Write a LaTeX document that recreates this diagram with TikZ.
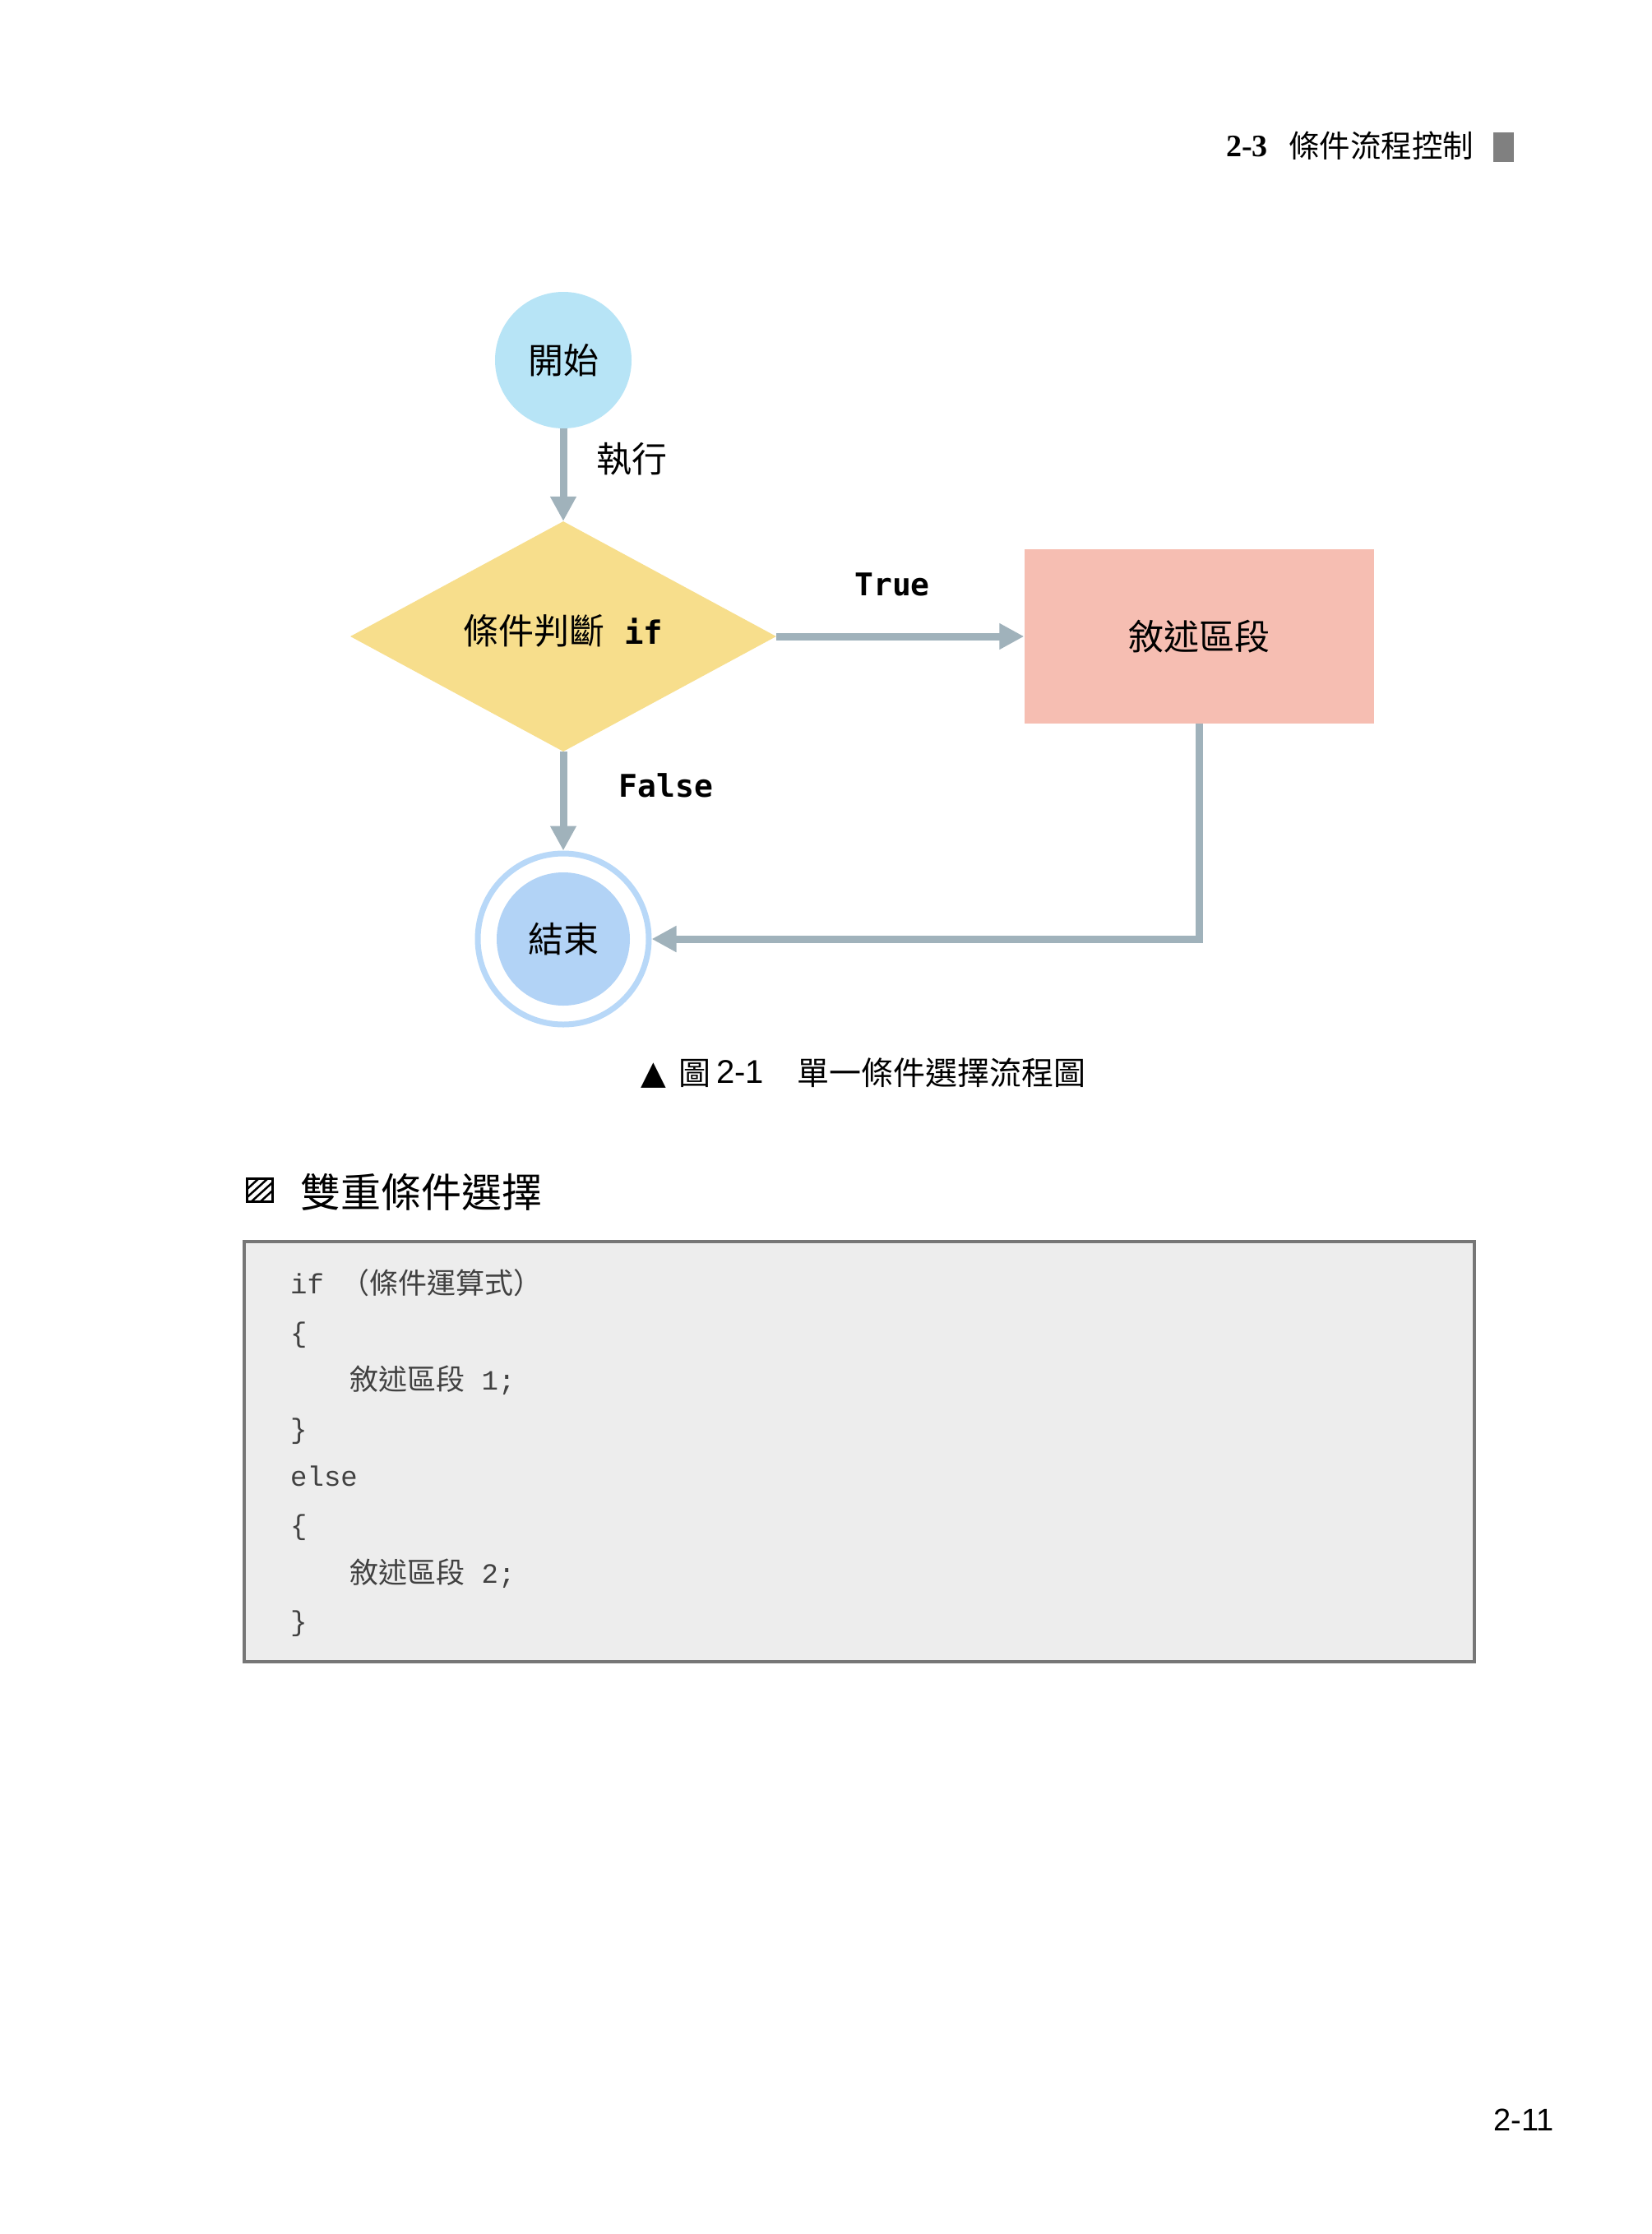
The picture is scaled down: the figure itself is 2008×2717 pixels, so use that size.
\documentclass[tikz,border=0pt]{standalone}
\usepackage{fontspec}
\usetikzlibrary{shapes.geometric,arrows.meta}
\newfontfamily\cjk{Noto Sans CJK TC}
\newfontfamily\dmono{DejaVu Sans Mono}
\newfontfamily\lmono{Liberation Mono}
\newfontfamily\lserif{Liberation Serif}
\newfontfamily\lsans{Liberation Sans}
\newfontfamily\dsans{DejaVu Sans}
\newcommand\fsz[1]{\fontsize{#1}{#1}\selectfont}
\definecolor{arrowc}{RGB}{160,178,187}
\definecolor{startc}{RGB}{183,228,246}
\definecolor{decc}{RGB}{247,222,140}
\definecolor{blkc}{RGB}{246,190,178}
\definecolor{endc}{RGB}{178,211,246}
\definecolor{ringc}{RGB}{184,216,248}
\definecolor{headgray}{RGB}{128,128,128}
\definecolor{codebg}{RGB}{237,237,237}
\definecolor{codeframe}{RGB}{118,118,118}
\definecolor{codec}{RGB}{65,65,65}
\tikzset{
  flow/.style={draw=arrowc, line width=9pt, -{Triangle[length=30pt,width=30pt]}},
  cjklabel/.style={font={\cjk\fsz{43}}, inner sep=0pt},
  monolabel/.style={font={\dmono\bfseries\fsz{38}}, inner sep=0pt},
  codeline/.style={anchor=base west, inner sep=0pt, font={\lmono\fsz{34}}, text=codec},
  pagetext/.style={anchor=base west, inner sep=0pt},
}
\begin{document}
\begin{tikzpicture}[x=1pt,y=-1pt]
\fill[white] (0,0) rectangle (2008,2717);
\useasboundingbox (0,0) rectangle (2008,2717);

% header
\node[pagetext, font={\lserif\bfseries\fsz{38}}] (hnum) at (1491,190) {2-3};
\node[pagetext, font={\cjk\fsz{37.5}}] (htitle) at (1567,191) {條件流程控制};
\fill[headgray] (1816,161) rectangle (1841,197);

% flowchart
\node[circle, fill=startc, minimum size=166pt, inner sep=0pt, font={\cjk\fsz{43}}] (start) at (685,438) {開始};
\node[diamond, aspect=1.85, fill=decc, minimum width=518pt, minimum height=280pt, inner sep=0pt, text depth=18pt, font={\cjk\fsz{43}}] (dec) at (685,774) {條件判斷{\dmono\bfseries\fsz{39}\ if}};
\node[rectangle, fill=blkc, minimum width=425pt, minimum height=212pt, inner sep=0pt, font={\cjk\fsz{43}}] (blk) at (1458,774) {敘述區段};
\node[circle, draw=ringc, line width=7pt, fill=white, minimum size=208pt, inner sep=0pt] (endo) at (685,1142) {};
\node[circle, fill=endc, minimum size=162pt, inner sep=0pt, font={\cjk\fsz{43}}] (endi) at (endo.center) {結束};

\draw[flow] (start) -- (dec);
\draw[flow] (dec) -- (blk);
\draw[flow] (dec) -- (endo);
\draw[flow] (blk.south) |- (endo.east);

\node[cjklabel] (lexec) at (768,558) {執行};
\node[monolabel] (ltrue) at (1085,711) {True};
\node[monolabel] (lfalse) at (810,955) {False};

% caption
\node[pagetext, font={\dsans\fsz{40}}] (cap1) at (779,1318) {▲};
\node[pagetext, font={\cjk\fsz{39}}] (cap2) at (825,1319) {圖};
\node[pagetext, font={\lsans\fsz{40}}] (cap3) at (871,1317) {2-1};
\node[pagetext, font={\cjk\fsz{39}}] (cap4) at (969,1319) {單一條件選擇流程圖};

% section title
\draw[line width=3pt] (300.5,1433.5) rectangle (331.5,1461.5);
\begin{scope}
  \clip (300.5,1433.5) rectangle (331.5,1461.5);
  \foreach \o in {-17,-6,5,16} {
    \draw[line width=2.5pt] (300+\o,1462) -- (332+\o,1433);
  }
\end{scope}
\node[pagetext, font={\cjk\fsz{49}}] (sect) at (365,1468) {雙重條件選擇};

% code box
\draw[fill=codebg, draw=codeframe, line width=4pt] (297,1510) rectangle (1793,2021);
\node[codeline] (c1) at (353,1573) {if {\cjk\fsz{35}（條件運算式）}};
\node[codeline] (c2) at (353,1632) {\{};
\node[codeline] (c3) at (425,1690) {{\cjk\fsz{35}敘述區段} 1;};
\node[codeline] (c4) at (353,1749) {\}};
\node[codeline] (c5) at (353,1807) {else};
\node[codeline] (c6) at (353,1866) {\{};
\node[codeline] (c7) at (425,1925) {{\cjk\fsz{35}敘述區段} 2;};
\node[codeline] (c8) at (353,1983) {\}};

% page number
\node[inner sep=0pt, font={\lsans\fsz{38}}] (pnum) at (1853,2578) {2-11};
\end{tikzpicture}
\end{document}
